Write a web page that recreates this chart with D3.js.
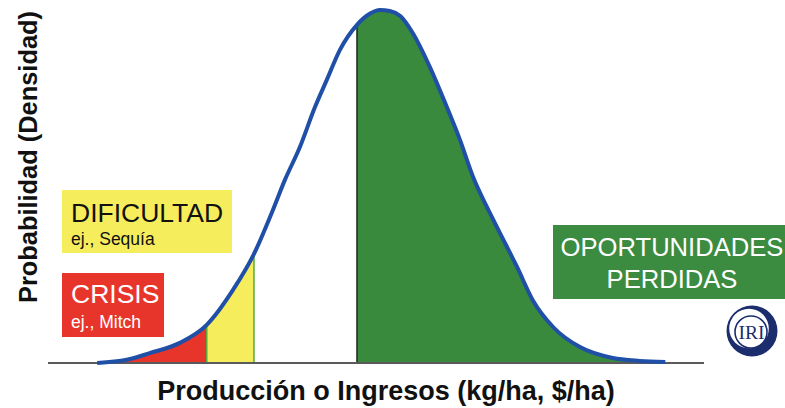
<!DOCTYPE html>
<html><head><meta charset="utf-8">
<script src="https://cdn.jsdelivr.net/npm/d3@7"></script>
<style>html,body{margin:0;padding:0;background:#fff;}svg{display:block;}</style>
</head><body>
<svg id="c" width="785" height="408"></svg>
<script>
// Production (relative units, 0-100 across the baseline) and density (relative, peak = 1)
const production = [7.5, 12.0, 15.5, 20.1, 24.2, 28.2, 31.4, 34.1, 36.1, 38.4, 40.7, 42.5, 44.5, 47.1, 49.1, 50.6, 52.1, 53.7, 55.6, 58.2, 60.8, 62.8, 64.8, 66.9, 68.9, 71.5, 73.9, 77.0, 81.1, 86.1, 90.2, 94.1];
const density    = [0, 0.009, 0.028, 0.057, 0.108, 0.207, 0.309, 0.425, 0.518, 0.612, 0.725, 0.802, 0.887, 0.958, 0.990, 1.0, 0.997, 0.983, 0.935, 0.839, 0.725, 0.632, 0.527, 0.442, 0.368, 0.272, 0.178, 0.102, 0.045, 0.014, 0.006, 0.003];
// Region thresholds on the production axis
const regionNames  = ["CRISIS", "DIFICULTAD", "OPORTUNIDADES PERDIDAS"];
const regionStart  = [7.5, 24.2, 47.1];
const regionEnd    = [24.2, 31.4, 94.1];
const regionColors = ["#e8352c", "#f6ed5c", "#3a8a3e"];
// Labels
const boxTitles = ["DIFICULTAD", "CRISIS", "OPORTUNIDADES"];
const boxSubs   = ["ej., Sequía", "ej., Mitch", "PERDIDAS"];
const xTitle = "Producción o Ingresos (kg/ha, $/ha)";
const yTitle = "Probabilidad (Densidad)";

const pts = production.map((p, i) => ({p, d: density[i]}));
const svg = d3.select("#c");
const x = d3.scaleLinear().domain([0, 100]).range([48, 704]);
const y = d3.scaleLinear().domain([0, 1]).range([363, 10]);

const area = d3.area().x(d => x(d.p)).y0(y(0)).y1(d => y(d.d)).curve(d3.curveMonotoneX);
const line = d3.line().x(d => x(d.p)).y(d => y(d.d)).curve(d3.curveMonotoneX);

const defs = svg.append("defs");
regionStart.forEach((s, i) => {
  defs.append("clipPath").attr("id", "clip" + i)
    .append("rect").attr("x", x(s)).attr("y", 0)
    .attr("width", x(regionEnd[i]) - x(s)).attr("height", 408);
});
regionStart.forEach((s, i) => {
  svg.append("path").datum(pts).attr("d", area)
    .attr("fill", regionColors[i]).attr("clip-path", `url(#clip${i})`);
});

const curvePath = svg.append("path").datum(pts).attr("d", line).attr("fill", "none").attr("stroke", "none");
function curveYAt(px) {
  const node = curvePath.node(), L = node.getTotalLength();
  let lo = 0, hi = L;
  for (let k = 0; k < 40; k++) { const m = (lo + hi) / 2; if (node.getPointAtLength(m).x < px) lo = m; else hi = m; }
  return node.getPointAtLength(lo).y;
}
[regionEnd[0], regionEnd[1]].forEach(v => {
  svg.append("line").attr("x1", x(v)).attr("x2", x(v)).attr("y1", y(0)).attr("y2", curveYAt(x(v)))
    .attr("stroke", "#5aa83a").attr("stroke-width", 1.5);
});
svg.append("line").attr("x1", x(regionStart[2])).attr("x2", x(regionStart[2]))
  .attr("y1", y(0)).attr("y2", curveYAt(x(regionStart[2])))
  .attr("stroke", "#1a2a1a").attr("stroke-width", 1.5);

svg.append("line").attr("x1", x(0)).attr("x2", x(100)).attr("y1", y(0)).attr("y2", y(0))
  .attr("stroke", "#5a5a5a").attr("stroke-width", 2);

svg.append("path").datum(pts).attr("d", line).attr("fill", "none")
  .attr("stroke", "#1f4fa6").attr("stroke-width", 4).attr("stroke-linejoin", "round");

svg.append("text").attr("x", 386).attr("y", 400).attr("text-anchor", "middle")
  .attr("font-family", "Liberation Sans, Arial, sans-serif").attr("font-weight", "bold")
  .attr("font-size", 27).attr("fill", "#111").text(xTitle);
svg.append("text").attr("transform", "translate(37,157) rotate(-90)").attr("text-anchor", "middle")
  .attr("font-family", "Liberation Sans, Arial, sans-serif").attr("font-weight", "bold")
  .attr("font-size", 25.4).attr("fill", "#111").text(yTitle);

const boxes = [
  {x: 62, y: 190, w: 170, h: 63, fill: regionColors[1], color: "#111", anchor: "start", tx: 71, ty1: 222, ty2: 245, s1: 26.5, s2: 17.5},
  {x: 62, y: 273, w: 102, h: 64, fill: regionColors[0], color: "#fff", anchor: "start", tx: 71, ty1: 303, ty2: 328, s1: 26.5, s2: 17.5},
  {x: 553, y: 225, w: 232, h: 74, fill: "#3b8b40", color: "#fff", anchor: "middle", tx: 672, ty1: 256, ty2: 288, s1: 25.6, s2: 25.6}
];
boxes.forEach((b, i) => {
  svg.append("rect").attr("x", b.x).attr("y", b.y).attr("width", b.w).attr("height", b.h).attr("fill", b.fill);
  svg.append("text").attr("x", b.tx).attr("y", b.ty1).attr("text-anchor", b.anchor)
    .attr("font-family", "Liberation Sans, Arial, sans-serif").attr("font-size", b.s1)
    .attr("fill", b.color).text(boxTitles[i]);
  svg.append("text").attr("x", b.tx).attr("y", b.ty2).attr("text-anchor", b.anchor)
    .attr("font-family", "Liberation Sans, Arial, sans-serif").attr("font-size", b.s2)
    .attr("fill", b.color).text(boxSubs[i]);
});

// IRI logo
const lg = svg.append("g").attr("transform", "translate(752,331)");
lg.append("circle").attr("r", 25.5).attr("fill", "#1c2d6e");
lg.append("circle").attr("cx", -3).attr("cy", -2.5).attr("r", 19.8).attr("fill", "#fff");
lg.append("circle").attr("cx", -1).attr("cy", 1).attr("r", 16).attr("fill", "none").attr("stroke", "#1c2d6e").attr("stroke-width", 1.6);
lg.append("text").attr("x", -0.5).attr("y", 8).attr("text-anchor", "middle")
  .attr("font-family", "Liberation Serif, Times New Roman, serif").attr("font-size", 19.5)
  .attr("fill", "#1c2d6e").text("IRI");
</script>
</body></html>
